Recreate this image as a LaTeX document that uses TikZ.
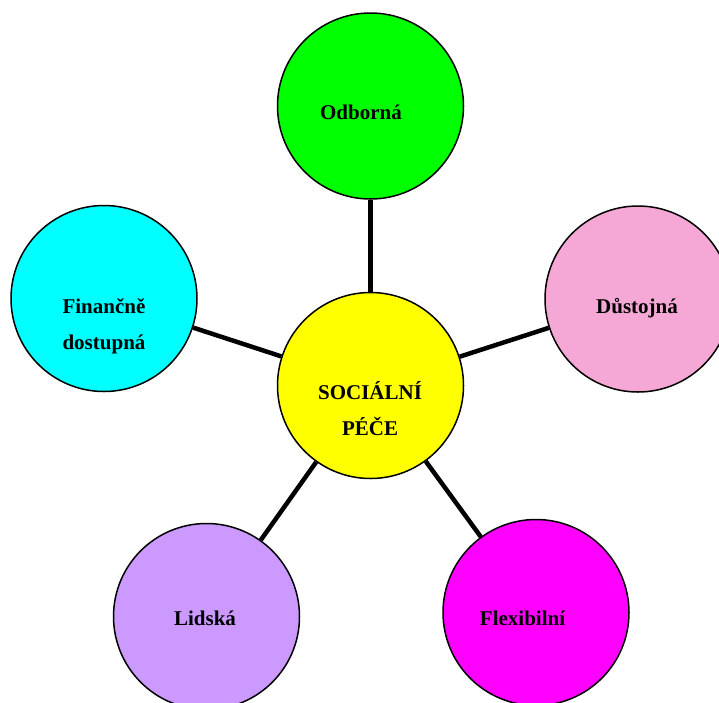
\documentclass[tikz,border=0pt]{standalone}
\usepackage{fontspec}
\setmainfont{Liberation Serif}
\definecolor{cgreen}{HTML}{00FF00}
\definecolor{cpink}{HTML}{F5A8D5}
\definecolor{ccyan}{HTML}{00FFFF}
\definecolor{cyellow}{HTML}{FFFF00}
\definecolor{cpurple}{HTML}{CC99FF}
\definecolor{cmagenta}{HTML}{FF00FF}
\begin{document}
\begin{tikzpicture}[x=1pt,y=-1pt,
  bubble/.style={circle,draw=black,line width=1.5pt,minimum size=186pt,inner sep=0pt},
  lbl/.style={font=\fontsize{21}{36}\selectfont\bfseries,align=center,anchor=base,inner sep=0pt},
  link/.style={line width=4.5pt}]
\useasboundingbox (0,0) rectangle (719,702);
\clip (0,0) rectangle (719,702);
\node[bubble,fill=cyellow] (c) at (370.5,385.5) {};
\node[bubble,fill=cgreen] (g) at (370.5,106) {};
\node[bubble,fill=cpink] (p) at (638,299) {};
\node[bubble,fill=ccyan] (f) at (104,298.5) {};
\node[bubble,fill=cpurple] (l) at (206.5,616.5) {};
\node[bubble,fill=cmagenta] (x) at (536,612.5) {};
\draw[link] (c) -- (g);
\draw[link] (c) -- (p);
\draw[link] (c) -- (f);
\draw[link] (c) -- (l);
\draw[link] (c) -- (x);
\node[lbl] (tg) at (361,119) {Odborná};
\node[lbl] (tp) at (637,313) {Důstojná};
\node[lbl] (tf) at (104,349) {Finančně\\dostupná};
\node[lbl] (tc) at (370,435) {SOCIÁLNÍ\\PÉČE};
\node[lbl] (tl) at (205,625) {Lidská};
\node[lbl] (tx) at (522.5,625) {Flexibilní};
\end{tikzpicture}
\end{document}
